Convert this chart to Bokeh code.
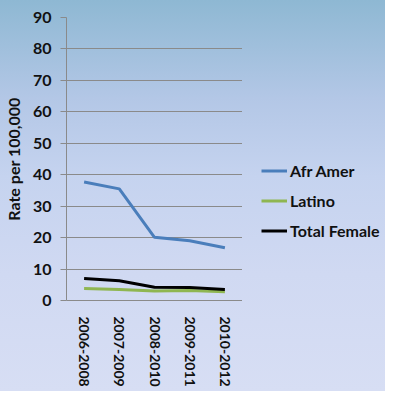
import math
from bokeh.plotting import figure
from bokeh.layouts import row
from bokeh.models import Legend, LegendItem, FixedTicker
from bokeh.embed import file_html
from bokeh.resources import INLINE

periods = ["2006-2008", "2007-2009", "2008-2010", "2009-2011", "2010-2012"]
afr_amer = [37.7, 35.5, 20.1, 19.0, 16.8]
latino = [3.8, 3.5, 3.0, 3.2, 2.8]
total_female = [7.0, 6.3, 4.2, 4.1, 3.5]
series_names = ["Afr Amer", "Latino", "Total Female"]
series_colors = ["#4a7ebb", "#8fb651", "#000000"]
y_ticks = [0, 10, 20, 30, 40, 50, 60, 70, 80, 90]

FONT = "Lato"
TXT = "#111111"
GRID = "#8a8a8a"

p = figure(width=242, height=391, x_range=periods, y_range=(0, 90),
           output_backend="svg", toolbar_location=None,
           min_border_left=65, min_border_right=0,
           min_border_top=17, min_border_bottom=91)
p.x_range.range_padding = 0
p.background_fill_color = None
p.border_fill_color = None
p.outline_line_color = None

p.ygrid.ticker = FixedTicker(ticks=y_ticks)
p.ygrid.grid_line_color = GRID
p.ygrid.grid_line_width = 1
p.xgrid.grid_line_color = None

p.yaxis.ticker = FixedTicker(ticks=y_ticks)
p.yaxis.axis_line_color = GRID
p.yaxis.major_tick_line_color = GRID
p.yaxis.major_tick_out = 6
p.yaxis.major_tick_in = 0
p.yaxis.minor_tick_line_color = None
p.yaxis.major_label_text_font = FONT
p.yaxis.major_label_text_font_style = "bold"
p.yaxis.major_label_text_font_size = "16px"
p.yaxis.major_label_text_color = TXT
p.yaxis.major_label_standoff = 9
p.yaxis.axis_label = "Rate per 100,000"
p.yaxis.axis_label_text_font = FONT
p.yaxis.axis_label_text_font_style = "bold"
p.yaxis.axis_label_text_font_size = "16px"
p.yaxis.axis_label_text_color = TXT
p.yaxis.axis_label_standoff = 7

p.xaxis.axis_line_color = GRID
p.xaxis.major_tick_line_color = None
p.xaxis.minor_tick_line_color = None
p.xaxis.major_label_orientation = -math.pi / 2
p.xaxis.major_label_text_font = FONT
p.xaxis.major_label_text_font_style = "bold"
p.xaxis.major_label_text_font_size = "14px"
p.xaxis.major_label_text_color = TXT
p.xaxis.major_label_standoff = 10

series = [afr_amer, latino, total_female]
for vals, col in zip(series, series_colors):
    p.line(periods, vals, line_color=col, line_width=3)

# legend panel: a second figure whose frame shows no data, holding only the legend
q = figure(width=143, height=391, x_range=periods, y_range=(200, 300),
           output_backend="svg", toolbar_location=None,
           min_border_left=0, min_border_right=0, min_border_top=0, min_border_bottom=0)
q.axis.visible = False
q.grid.visible = False
q.background_fill_color = None
q.border_fill_color = None
q.outline_line_color = None

items = []
for name, vals, col in zip(series_names, series, series_colors):
    r = q.line(periods, vals, line_color=col, line_width=3)
    items.append(LegendItem(label=name, renderers=[r]))

legend = Legend(items=items, location=(19, 60))
legend.background_fill_alpha = 0
legend.border_line_color = None
legend.padding = 0
legend.margin = 0
legend.spacing = 11
legend.glyph_width = 26
legend.glyph_height = 19
legend.label_height = 19
legend.label_standoff = 3
legend.label_text_font = FONT
legend.label_text_font_style = "bold"
legend.label_text_font_size = "16px"
legend.label_text_color = TXT
q.add_layout(legend, "center")

layout = row(p, q, spacing=0,
             styles={"background": "linear-gradient(to bottom, #8eb8d3 0%, #b3c7e6 25%, #c5d3ef 45%, #d0d9f2 70%, #d7def4 100%)"})

open("out.html", "w").write(file_html(layout, INLINE))
